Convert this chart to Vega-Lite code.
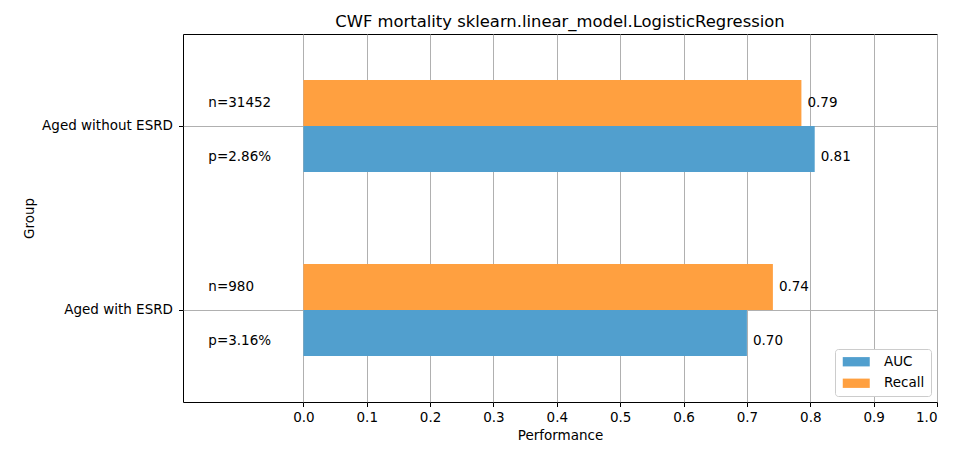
{
  "$schema": "https://vega.github.io/schema/vega-lite/v6.json",
  "background": "white",
  "width": 754,
  "height": 368,
  "autosize": {"type": "none"},
  "padding": {"left": 183, "top": 34, "right": 37, "bottom": 54},
  "title": {
    "text": "CWF mortality sklearn.linear_model.LogisticRegression",
    "fontSize": 16.4, "fontWeight": "normal", "color": "black", "offset": 4
  },
  "config": {
    "font": "DejaVu Sans",
    "view": {"stroke": "black", "strokeWidth": 1},
    "axis": {
      "domain": false,
      "grid": true,
      "gridColor": "#b0b0b0",
      "gridWidth": 1,
      "tickColor": "black",
      "tickSize": 4.5,
      "labelColor": "black",
      "labelFontSize": 13.5,
      "titleColor": "black",
      "titleFontSize": 13.5,
      "titleFontWeight": "normal",
      "zindex": 1
    }
  },
  "data": {
    "values": [
      {"group": "Aged without ESRD", "metric": "AUC", "value": 0.807, "side": "p=2.86%"},
      {"group": "Aged without ESRD", "metric": "Recall", "value": 0.786, "side": "n=31452"},
      {"group": "Aged with ESRD", "metric": "AUC", "value": 0.700, "side": "p=3.16%"},
      {"group": "Aged with ESRD", "metric": "Recall", "value": 0.741, "side": "n=980"}
    ]
  },
  "encoding": {
    "y": {
      "field": "group", "type": "nominal",
      "sort": ["Aged without ESRD", "Aged with ESRD"],
      "scale": {"paddingInner": 0, "paddingOuter": 0},
      "axis": {"bandPosition": 0.5, "labelPadding": 6, "titlePadding": 5},
      "title": "Group"
    },
    "yOffset": {
      "field": "metric", "type": "nominal",
      "sort": ["Recall", "AUC"],
      "scale": {"paddingInner": 0, "paddingOuter": 1}
    }
  },
  "layer": [
    {
      "mark": {"type": "bar"},
      "encoding": {
        "x": {
          "field": "value", "type": "quantitative",
          "scale": {"domain": [-0.19, 1.0], "nice": false},
          "axis": {
            "values": [0, 0.1, 0.2, 0.3, 0.4, 0.5, 0.6, 0.7, 0.8, 0.9, 1.0],
            "format": ".1f", "labelPadding": 3.5, "titlePadding": 5
          },
          "title": "Performance"
        },
        "color": {
          "field": "metric", "type": "nominal",
          "scale": {"domain": ["AUC", "Recall"], "range": ["#519fce", "#ffa040"]},
          "legend": {
            "title": null,
            "orient": "bottom-right",
            "offset": 6,
            "fillColor": "white",
            "strokeColor": "#cccccc",
            "cornerRadius": 3,
            "padding": 6,
            "labelFontSize": 13.5,
            "labelColor": "black",
            "symbolType": "M-2.7,-0.93H2.7V0.93H-2.7Z",
            "symbolSize": 100,
            "symbolStrokeWidth": 0,
            "symbolOffset": 8.5,
            "labelOffset": 21,
            "rowPadding": 6.5
          }
        }
      }
    },
    {
      "transform": [{"filter": "datum.metric === 'Recall'"}],
      "mark": {"type": "text", "align": "left", "baseline": "middle", "dx": 6, "fontSize": 13.5, "color": "black"},
      "encoding": {
        "x": {"field": "value", "type": "quantitative"},
        "text": {"field": "value", "type": "quantitative", "format": ".2f"}
      }
    },
    {
      "transform": [{"filter": "datum.metric === 'AUC'"}],
      "mark": {"type": "text", "align": "left", "baseline": "middle", "dx": 6, "dy": 8, "fontSize": 13.5, "color": "black"},
      "encoding": {
        "x": {"field": "value", "type": "quantitative"},
        "text": {"field": "value", "type": "quantitative", "format": ".2f"}
      }
    },
    {
      "transform": [{"filter": "datum.metric === 'Recall'"}],
      "mark": {"type": "text", "align": "left", "baseline": "middle", "fontSize": 13.5, "color": "black"},
      "encoding": {
        "x": {"datum": -0.15},
        "text": {"field": "side", "type": "nominal"}
      }
    },
    {
      "transform": [{"filter": "datum.metric === 'AUC'"}],
      "mark": {"type": "text", "align": "left", "baseline": "middle", "dy": 8, "fontSize": 13.5, "color": "black"},
      "encoding": {
        "x": {"datum": -0.15},
        "text": {"field": "side", "type": "nominal"}
      }
    }
  ]
}
